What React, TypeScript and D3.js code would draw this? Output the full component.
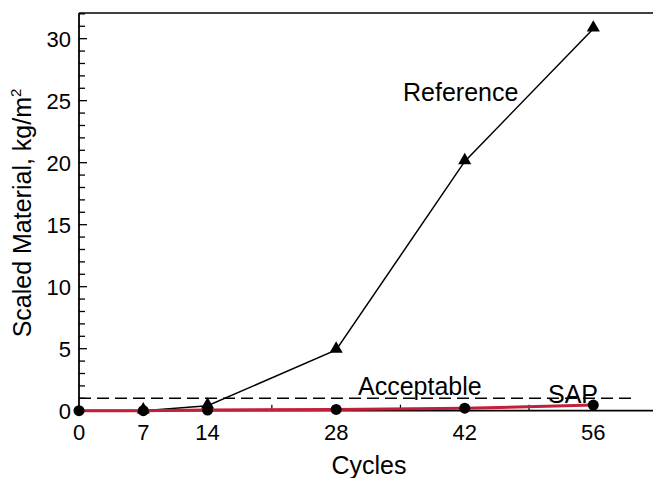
import React from "react";
import * as d3 from "d3";

const refCycles = [7, 14, 28, 42, 56];
const refValues = [0.0, 0.4, 4.9, 20.1, 30.8];
const sapCycles = [0, 7, 14, 28, 42, 56];
const sapValues = [0.0, 0.0, 0.05, 0.1, 0.2, 0.45];
const acceptableLevel = 1;
const xTickLabels = [0, 7, 14, 28, 42, 56];
const xMinorTicks = [21, 35, 49];
const yTickLabels = [0, 5, 10, 15, 20, 25, 30];
const yMinorTicks = d3.range(0, 33, 1);

const W = 653;
const H = 478;
const FONT = "Liberation Sans, Arial, sans-serif";

export default function App() {
  const x = d3.scaleLinear().domain([0, 62.5]).range([79, 653]);
  const y = d3.scaleLinear().domain([0, 32.07]).range([410.7, 13]);

  const line = d3
    .line<[number, number]>()
    .x((d) => x(d[0]))
    .y((d) => y(d[1]));

  const refPts: [number, number][] = refCycles.map((c, i) => [c, refValues[i]]);
  const sapPts: [number, number][] = sapCycles.map((c, i) => [c, sapValues[i]]);
  const tri = d3.symbol().type(d3.symbolTriangle).size(75)();

  return (
    <svg
      width={W}
      height={H}
      style={{ position: "absolute", left: 0, top: 0 }}
      fontFamily={FONT}
    >
      <rect x={0} y={0} width={W} height={H} fill="white" />
      {/* top border */}
      <line x1={x(0)} x2={W} y1={y(32.07)} y2={y(32.07)} stroke="black" strokeWidth={1.5} />
      {/* y axis */}
      <line x1={x(0)} x2={x(0)} y1={y(32.07)} y2={y(0)} stroke="black" strokeWidth={1.8} />
      {/* x axis */}
      <line x1={x(0)} x2={W} y1={y(0)} y2={y(0)} stroke="black" strokeWidth={1.8} />
      {yMinorTicks.map((t) => (
        <line
          key={"ym" + t}
          x1={x(0)}
          x2={x(0) + (t % 5 === 0 ? 8 : 6)}
          y1={y(t)}
          y2={y(t)}
          stroke="black"
          strokeWidth={1.3}
        />
      ))}
      {yTickLabels.map((t) => (
        <text
          key={"yl" + t}
          x={71}
          y={y(t)}
          dy="0.36em"
          textAnchor="end"
          fontSize={22}
        >
          {t}
        </text>
      ))}
      {xTickLabels.concat(xMinorTicks).map((t) => (
        <line
          key={"xt" + t}
          x1={x(t)}
          x2={x(t)}
          y1={y(0)}
          y2={y(0) - 6}
          stroke="black"
          strokeWidth={1.2}
        />
      ))}
      {xTickLabels.map((t) => (
        <text key={"xl" + t} x={x(t)} y={440} textAnchor="middle" fontSize={22}>
          {t}
        </text>
      ))}
      <text x={369} y={474} textAnchor="middle" fontSize={25}>
        Cycles
      </text>
      <text
        transform={`translate(31,${213}) rotate(-90)`}
        textAnchor="middle"
        fontSize={25}
      >
        Scaled Material, kg/m
        <tspan fontSize={15} dy={-10}>
          2
        </tspan>
      </text>
      {/* acceptable dashed line */}
      <line
        x1={x(0)}
        x2={632}
        y1={y(acceptableLevel)}
        y2={y(acceptableLevel)}
        stroke="black"
        strokeWidth={1.5}
        strokeDasharray="12,6"
      />
      {/* reference series */}
      <path d={line(refPts) || ""} fill="none" stroke="black" strokeWidth={1.5} />
      {refPts.map((p, i) => (
        <path key={"tr" + i} d={tri || ""} transform={`translate(${x(p[0])},${y(p[1]) - 1})`} fill="black" />
      ))}
      {/* SAP series */}
      <path d={line(sapPts) || ""} fill="none" stroke="#c1203a" strokeWidth={3} />
      {sapPts.map((p, i) => (
        <circle key={"c" + i} cx={x(p[0])} cy={y(p[1])} r={5.5} fill="black" />
      ))}
      <text x={403} y={101} fontSize={25}>
        Reference
      </text>
      <text x={358} y={395} fontSize={25}>
        Acceptable
      </text>
      <text x={548} y={403} fontSize={25}>
        SAP
      </text>
    </svg>
  );
}
